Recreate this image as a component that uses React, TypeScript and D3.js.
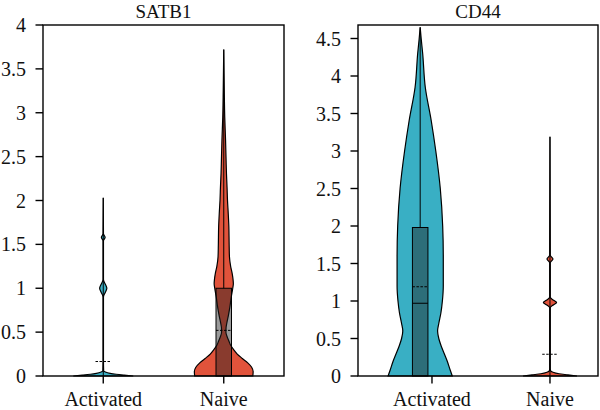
import React from "react";
import * as d3 from "d3";

// ---------- data ----------
const categories = ["Activated", "Naive"];
const genes = ["SATB1", "CD44"];
const yMaxByGene = [4, 4.68];
const satb1Ticks = [0, 0.5, 1, 1.5, 2, 2.5, 3, 3.5, 4];
const cd44Ticks = [0, 0.5, 1, 1.5, 2, 2.5, 3, 3.5, 4, 4.5];
const tickLabels = (t: number) => String(t);

// category position shift of the violin (in category units)
const satb1Shift = [0, 0];
const cd44Shift = [-0.1, 0];

// violin profiles: [expression value, relative half-width]
const satb1Activated: [number, number][] = [
  [0, 1.0], [0.01, 0.7], [0.02, 0.43], [0.03, 0.23], [0.045, 0.07], [0.06, 0.013],
  [0.2, 0.007], [0.9, 0.007], [0.955, 0.07], [1.0, 0.12], [1.045, 0.07], [1.1, 0.007],
  [1.54, 0.007], [1.58, 0.063], [1.62, 0.007], [2.03, 0],
];
const satb1Naive: [number, number][] = [
  [0, 0.97], [0.05, 0.98], [0.1, 0.93], [0.15, 0.8], [0.2, 0.62], [0.25, 0.45],
  [0.3, 0.33], [0.35, 0.23], [0.4, 0.17], [0.45, 0.11], [0.5, 0.073], [0.55, 0.077],
  [0.6, 0.1], [0.7, 0.16], [0.8, 0.21], [0.9, 0.25], [1.0, 0.3], [1.05, 0.32],
  [1.1, 0.31], [1.17, 0.28], [1.25, 0.23], [1.36, 0.19], [1.5, 0.18], [1.7, 0.17],
  [1.85, 0.15], [2.0, 0.125], [2.15, 0.11], [2.31, 0.09], [2.5, 0.075], [2.69, 0.06],
  [2.95, 0.033], [3.26, 0.017], [3.72, 0],
];
const cd44Activated: [number, number][] = [
  [0, 1.07], [0.08, 1.0], [0.2, 0.9], [0.3, 0.8], [0.4, 0.7], [0.5, 0.62], [0.6, 0.58],
  [0.7, 0.62], [0.84, 0.69], [1.0, 0.74], [1.2, 0.77], [1.6, 0.77], [2.0, 0.75],
  [2.5, 0.67], [3.0, 0.52], [3.4, 0.37], [3.85, 0.17], [4.3, 0.083], [4.5, 0.033], [4.65, 0],
];
const cd44Naive: [number, number][] = [
  [0, 0.9], [0.015, 0.6], [0.03, 0.3], [0.05, 0.1], [0.07, 0.02], [0.1, 0.01],
  [0.91, 0.01], [0.95, 0.12], [0.98, 0.22], [1.01, 0.12], [1.05, 0.01],
  [1.51, 0.01], [1.56, 0.1], [1.61, 0.01], [3.19, 0],
];

// box statistics per category
const satb1Q1 = [0, 0];
const satb1Q3 = [0, 1.0];
const satb1Median = [0, 0];
const satb1Mean = [0.165, 0.52];
const satb1Max = [2.03, 3.72];
const cd44Q1 = [0, 0];
const cd44Q3 = [1.98, 0];
const cd44Median = [0.97, 0];
const cd44Mean = [1.19, 0.29];
const cd44Max = [4.65, 3.19];

const colors = ["#39AFC4", "#E1533B"];

// ---------- layout ----------
const W = 600;
const H = 410;
const FONT = "'Liberation Serif', 'DejaVu Serif', 'Times New Roman', serif";

type Panel = {
  gene: string;
  left: number;
  right: number;
  xDomain: [number, number];
  yMax: number;
  ticks: number[];
  shift: number[];
  profiles: [number, number][][];
  q1: number[];
  q3: number[];
  median: number[];
  mean: number[];
  max: number[];
};

const panels: Panel[] = [
  {
    gene: genes[0], left: 43, right: 284, xDomain: [-0.5, 1.5], yMax: yMaxByGene[0],
    ticks: satb1Ticks, shift: satb1Shift, profiles: [satb1Activated, satb1Naive],
    q1: satb1Q1, q3: satb1Q3, median: satb1Median, mean: satb1Mean, max: satb1Max,
  },
  {
    gene: genes[1], left: 358, right: 598, xDomain: [-0.627, 1.407], yMax: yMaxByGene[1],
    ticks: cd44Ticks, shift: cd44Shift, profiles: [cd44Activated, cd44Naive],
    q1: cd44Q1, q3: cd44Q3, median: cd44Median, mean: cd44Mean, max: cd44Max,
  },
];

const TOP = 25;
const BOTTOM = 376;
const BOX_HALF = 7.75;
const textStyle: React.CSSProperties = { fontFamily: FONT, fontSize: 20 };
const titleStyle: React.CSSProperties = { fontFamily: FONT, fontSize: 19 };

function PanelView({ p }: { p: Panel }) {
  const x = d3.scaleLinear().domain(p.xDomain).range([p.left, p.right]);
  const y = d3.scaleLinear().domain([0, p.yMax]).range([BOTTOM, TOP]);
  const w = d3.scaleLinear().domain([0, 1]).range([0, 30]);

  return (
    <g>
      {categories.map((cat, i) => {
        const cx = x(i + p.shift[i]);
        const area = d3
          .area<[number, number]>()
          .y((d) => y(d[0]))
          .x0((d) => cx - w(d[1]))
          .x1((d) => cx + w(d[1]))
          .curve(d3.curveMonotoneY);
        const boxTop = y(p.q3[i]);
        const boxBot = y(p.q1[i]);
        return (
          <g key={cat}>
            <path d={area(p.profiles[i]) || ""} fill={colors[i]} stroke="#000" strokeWidth={1.2} />
            <line x1={cx} x2={cx} y1={y(p.q3[i])} y2={y(p.max[i])} stroke="#000" strokeWidth={1} />
            {p.q3[i] > p.q1[i] && (
              <rect
                x={cx - BOX_HALF}
                y={boxTop}
                width={BOX_HALF * 2}
                height={boxBot - boxTop}
                fill="rgba(30,30,30,0.45)"
                stroke="#000"
                strokeWidth={1}
              />
            )}
            {p.median[i] > 0 && (
              <line x1={cx - BOX_HALF} x2={cx + BOX_HALF} y1={y(p.median[i])} y2={y(p.median[i])} stroke="#000" strokeWidth={1} />
            )}
            <line
              x1={cx - BOX_HALF}
              x2={cx + BOX_HALF}
              y1={y(p.mean[i])}
              y2={y(p.mean[i])}
              stroke="#000"
              strokeWidth={1}
              strokeDasharray="2.5,1.5"
            />
          </g>
        );
      })}
      {/* frame */}
      <rect x={p.left} y={TOP} width={p.right - p.left} height={BOTTOM - TOP} fill="none" stroke="#000" strokeWidth={1.4} />
      {/* y ticks */}
      {p.ticks.map((t) => (
        <g key={t}>
          <line x1={p.left - 7.5} x2={p.left} y1={y(t)} y2={y(t)} stroke="#000" strokeWidth={1.4} />
          <text x={p.left - 17} y={y(t)} dy="0.35em" textAnchor="end" style={textStyle} fill="#111">
            {tickLabels(t)}
          </text>
        </g>
      ))}
      {/* x ticks */}
      {categories.map((cat, i) => (
        <g key={cat}>
          <line x1={x(i)} x2={x(i)} y1={BOTTOM} y2={BOTTOM + 7.5} stroke="#000" strokeWidth={1.4} />
          <text x={x(i)} y={406} textAnchor="middle" style={textStyle} fill="#111">
            {cat}
          </text>
        </g>
      ))}
      <text x={(p.left + p.right) / 2} y={17.5} textAnchor="middle" style={titleStyle} fill="#111">
        {p.gene}
      </text>
    </g>
  );
}

export default function App() {
  return (
    <svg
      width={W}
      height={H}
      viewBox={`0 0 ${W} ${H}`}
      style={{ position: "absolute", left: 0, top: 0, background: "#fff" }}
    >
      <rect x={0} y={0} width={W} height={H} fill="#fff" />
      {panels.map((p) => (
        <PanelView key={p.gene} p={p} />
      ))}
    </svg>
  );
}
